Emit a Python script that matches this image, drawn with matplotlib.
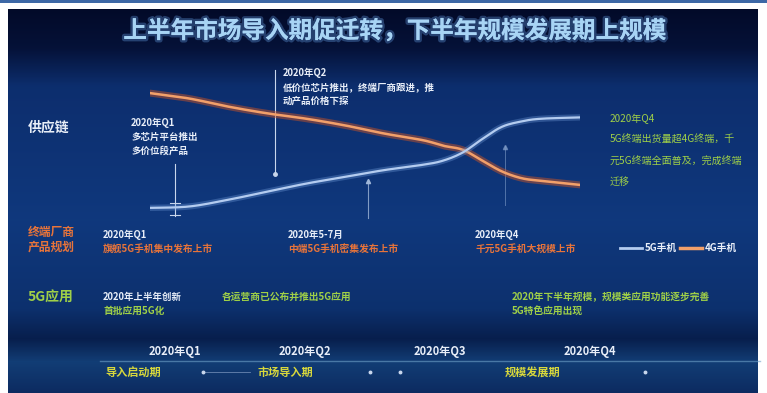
import numpy as np
import matplotlib
matplotlib.use('Agg')
import matplotlib.pyplot as plt
import matplotlib.patheffects as pe

plt.rcParams['font.family'] = ['Noto Sans CJK SC', 'DejaVu Sans']

# monthly shipment share (%) through 2020
months = [1, 2, 3, 4, 5, 6, 7, 8, 8.5, 9, 9.5, 10, 10.5, 11, 12]
share_5g = [9, 10, 15, 21, 27, 32, 37, 41, 44, 50, 60, 69, 73, 75, 76]
share_4g = [94, 90, 84, 79, 75, 70, 64, 59, 55, 52, 44, 36, 31, 29, 26]
series_names = ['5G手机', '4G手机']

title = '上半年市场导入期促迁转，下半年规模发展期上规模'
row_labels = ['供应链', '终端厂商\n产品规划', '5G应用']
quarters = ['2020年Q1', '2020年Q2', '2020年Q3', '2020年Q4']
phases = ['导入启动期', '市场导入期', '规模发展期']

supply_q1 = ['2020年Q1', '多芯片平台推出', '多价位段产品']
supply_q2 = ['2020年Q2', '低价位芯片推出，终端厂商跟进，推', '动产品价格下探']
supply_q4 = ['2020年Q4', '5G终端出货量超4G终端，千', '元5G终端全面普及，完成终端', '迁移']
vendor_dates = ['2020年Q1', '2020年5-7月', '2020年Q4']
vendor_plans = ['旗舰5G手机集中发布上市', '中端5G手机密集发布上市', '千元5G手机大规模上市']
app_h1 = ['2020年上半年创新', '各运营商已公布并推出5G应用', '首批应用5G化']
app_h2 = ['2020年下半年规模，规模类应用功能逐步完善', '5G特色应用出现']

W, H = 767, 393
C_WHITE = '#e8eef8'
C_ORANGE = '#e8743a'
C_GREEN = '#9fd048'
C_YELLOW = '#d8d83c'


def smooth(x, y, n=12):
    """Catmull-Rom pass through the points, just for a rounder stroke."""
    x = np.asarray(x, float)
    y = np.asarray(y, float)
    px = np.r_[x[0], x, x[-1]]
    py = np.r_[y[0], y, y[-1]]
    t = np.linspace(0, 1, n, endpoint=False)[:, None]
    out_x, out_y = [], []
    for i in range(1, len(px) - 2):
        for p, out in ((px, out_x), (py, out_y)):
            p0, p1, p2, p3 = p[i - 1], p[i], p[i + 1], p[i + 2]
            seg = 0.5 * (2 * p1 + (-p0 + p2) * t + (2 * p0 - 5 * p1 + 4 * p2 - p3) * t ** 2
                         + (-p0 + 3 * p1 - 3 * p2 + p3) * t ** 3)
            out.extend(seg.ravel())
    out_x.append(x[-1])
    out_y.append(y[-1])
    return out_x, out_y


fig = plt.figure(figsize=(W / 100, H / 100), dpi=100)
fig.patch.set_facecolor('white')

# dark blue panel with a vertical gradient
bg = fig.add_axes([8 / W, 0, 750 / W, 384 / H])
stops_y = [0, 0.10, 0.20, 0.55, 0.78, 0.86, 0.92, 1.0]
stops_c = [(0.01, 0.04, 0.16), (0.02, 0.07, 0.22), (0.05, 0.18, 0.43),
           (0.06, 0.22, 0.49), (0.05, 0.19, 0.43), (0.03, 0.12, 0.30),
           (0.07, 0.24, 0.46), (0.05, 0.17, 0.38)]
yy = np.linspace(0, 1, 300)
grad = np.stack([np.interp(yy, stops_y, [c[i] for c in stops_c]) for i in range(3)], axis=-1)
bg.imshow(grad[:, None, :], aspect='auto', extent=[0, 1, 1, 0])
bg.set_axis_off()

# top blue rule
fig.add_artist(plt.Rectangle((0, 1 - 3 / H), 1, 3 / H, transform=fig.transFigure,
                             color='#3d68a6', lw=0))

ax = fig.add_axes([0, 0, 1, 1])
ax.set_xlim(0, W)
ax.set_ylim(H, 0)
ax.set_axis_off()

glow = [pe.withStroke(linewidth=3.5, foreground=(0.45, 0.7, 1.0, 0.3))]
ax.text(395, 31, title, color='#a8d4f4', fontsize=17, fontweight='bold',
        ha='center', va='center', path_effects=glow)

# row headers
ax.text(28, 128, row_labels[0], color=C_WHITE, fontsize=10, fontweight='bold', va='center')
ax.text(28, 240, row_labels[1], color=C_ORANGE, fontsize=8.5, fontweight='bold',
        va='center', linespacing=1.2)
ax.text(28, 298, row_labels[2], color=C_GREEN, fontsize=10, fontweight='bold', va='center')

# curves
cax = fig.add_axes([150 / W, (H - 220) / H, 430 / W, 135 / H])
cax.set_xlim(1, 12)
cax.set_ylim(0, 100)
cax.set_axis_off()
cax.patch.set_alpha(0)
sx, s4 = smooth(months, share_4g)
_, s5 = smooth(months, share_5g)
cax.plot(sx, s4, color='#d8551e', lw=5, alpha=0.45, solid_capstyle='round')
cax.plot(sx, s4, color='#f2a06a', lw=1.8, solid_capstyle='round')
cax.plot(sx, s5, color='#6f9ad8', lw=4.5, alpha=0.35, solid_capstyle='round')
cax.plot(sx, s5, color='#b4ccf0', lw=1.6, solid_capstyle='round')

# callout leaders
ax.plot([175, 175], [164, 216], color='#c8d6ec', lw=0.8)
ax.plot([170, 180], [203, 203], color='#c8d6ec', lw=0.8)
ax.plot([170, 180], [215, 215], color='#c8d6ec', lw=0.8)
ax.plot([275, 275], [70, 174], color='#c8d6ec', lw=0.8)
ax.plot([275], [174], 'o', color='#c8d6ec', ms=2.5)
ax.plot([368, 368], [180, 218], color='#9fb6d8', lw=0.8, alpha=0.8)
ax.plot([368], [181], '^', color='#9fb6d8', ms=3)
ax.plot([505, 505], [146, 205], color='#7f9cc8', lw=0.7, alpha=0.6)
ax.plot([505], [147], '^', color='#7f9cc8', ms=3, alpha=0.7)

small = dict(fontsize=6.8, va='center', fontweight='bold')
for i, s in enumerate(supply_q1):
    ax.text(131, 123 + i * 14, s, color=C_WHITE, **small)
for i, s in enumerate(supply_q2):
    ax.text(283, 73 + i * 14, s, color=C_WHITE, **small)
for i, s in enumerate(supply_q4):
    ax.text(610, 119 + i * 21, s, color=C_GREEN, fontsize=7.2, va='center')

# vendor product plans
for x, d, p in zip([103, 288, 475], vendor_dates, vendor_plans):
    ax.text(x, 235, d, color=C_WHITE, **small)
    ax.text(x, 249, p, color=C_ORANGE, fontsize=7, va='center', fontweight='bold')

# legend
ax.plot([620, 642], [248, 248], color='#b4ccf0', lw=2)
ax.text(645, 248, series_names[0], color=C_WHITE, fontsize=7, va='center', fontweight='bold')
ax.plot([680, 702], [248, 248], color='#f2a06a', lw=2.5)
ax.text(705, 248, series_names[1], color=C_WHITE, fontsize=7, va='center', fontweight='bold')

# 5G applications
ax.text(103, 297, app_h1[0], color=C_WHITE, **small)
ax.text(222, 297, app_h1[1], color=C_GREEN, fontsize=7, va='center', fontweight='bold')
ax.text(103, 311, app_h1[2], color=C_GREEN, fontsize=7, va='center', fontweight='bold')
for i, s in enumerate(app_h2):
    ax.text(512, 297 + i * 14, s, color=C_GREEN, fontsize=7, va='center', fontweight='bold')

# timeline
ax.plot([100, 760], [361, 361], color='#6fa0c8', lw=1, alpha=0.6)
for x, q in zip([175, 305, 440, 590], quarters):
    ax.text(x, 352, q, color=C_WHITE, fontsize=8, fontweight='bold', ha='center', va='center')
for x, p in zip([105, 258, 505], phases):
    ax.text(x, 372, p, color=C_YELLOW, fontsize=8, va='center', fontweight='bold')
ax.plot([203, 250], [372, 372], color='#8fa8cc', lw=0.6, alpha=0.7)
ax.plot([203, 370, 400, 645], [372] * 4, 'o', color='#c8d6ec', ms=1.8)

fig.savefig('out.png', dpi=100, facecolor=fig.get_facecolor())
